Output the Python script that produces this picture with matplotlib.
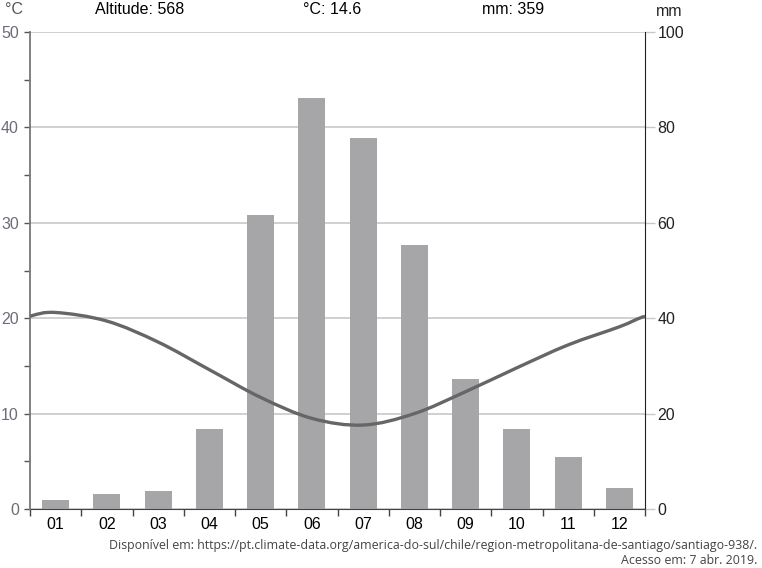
import numpy as np
import matplotlib
matplotlib.use('Agg')
import matplotlib.pyplot as plt
from matplotlib.path import Path
from matplotlib.patches import PathPatch

plt.rcParams['font.family'] = ['Liberation Sans', 'DejaVu Sans']

# data
months = ['01', '02', '03', '04', '05', '06', '07', '08', '09', '10', '11', '12']
precip = [1.9, 3.1, 3.8, 16.8, 61.6, 86.2, 77.8, 55.3, 27.3, 16.8, 10.9, 4.4]
temp = [20.6, 19.7, 17.5, 14.6, 11.7, 9.5, 8.8, 10.0, 12.3, 14.8, 17.2, 19.1]
temp_edge = 20.2  # value at the Dec/Jan boundary (both plot edges)

fs = 11.5
fig = plt.figure(figsize=(7.62, 5.68), dpi=100)
ax = fig.add_axes([30 / 762, 59 / 568, 615 / 762, 477 / 568])
x = np.arange(len(months))

# precipitation bars (mm, right scale)
ax.bar(x, precip, width=0.53, color='#a6a6a9', zorder=2)
ax.set_xlim(-0.5, 11.5)
ax.set_ylim(0, 100)
ax.set_yticks(range(0, 101, 20))
ax.grid(axis='y', color='#c8c8c8', linewidth=1.2, zorder=0)
ax.set_xticks(x)
ax.set_xticklabels(months)
ax.set_xticks(np.arange(-0.5, 12, 1), minor=True)
ax.tick_params(axis='x', which='major', length=0, labelsize=fs, pad=6)
ax.tick_params(axis='x', which='minor', length=5, width=1, color='#444444')

# temperature line (°C, left scale)
ax2 = ax.twinx()
ax.yaxis.tick_right()
ax.tick_params(axis='y', direction='out', length=7, width=1, color='#c8c8c8',
               labelsize=fs, labelcolor='#222222', pad=2)
for s in ['top', 'left']:
    ax.spines[s].set_visible(False)
ax.spines['right'].set_color('#222222')
ax.spines['bottom'].set_color('#444444')

ax2.set_ylim(0, 50)
ax2.set_yticks(range(0, 51, 10))
ax2.set_yticks(range(5, 50, 10), minor=True)
ax2.yaxis.tick_left()
ax2.tick_params(axis='y', which='both', direction='out', length=4, width=1,
                color='#555555', labelsize=fs, labelcolor='#6a6e78', pad=4)
for s in ['top', 'right', 'bottom']:
    ax2.spines[s].set_visible(False)
ax2.spines['left'].set_color('#777777')
ax2.spines['left'].set_linewidth(1.3)

px = np.concatenate([[-0.5], x, [11.5]])
py = np.concatenate([[temp_edge], temp, [temp_edge]])
pts = np.column_stack([px, py])
# periodic neighbours for the end tangents
ext = np.vstack([[-1, temp[-1]], pts, [12, temp[0]]])
verts = [tuple(pts[0])]
codes = [Path.MOVETO]
for i in range(1, len(ext) - 2):
    p0, p1, p2, p3 = ext[i - 1], ext[i], ext[i + 1], ext[i + 2]
    c1 = p1 + (p2 - p0) / 6
    c2 = p2 - (p3 - p1) / 6
    verts += [tuple(c1), tuple(c2), tuple(p2)]
    codes += [Path.CURVE4] * 3
ax2.add_patch(PathPatch(Path(verts, codes), facecolor='none', edgecolor='#666666',
                        linewidth=2.4, zorder=3, clip_on=False))

# header texts
fig.text(5 / 762, 1 - 10 / 568, '°C', fontsize=fs, color='#555555', va='center')
fig.text(656 / 762, 1 - 11 / 568, 'mm', fontsize=fs, color='#222222', va='center')
fig.text(140 / 762, 1 - 10 / 568, 'Altitude: 568', fontsize=fs, ha='center', va='center')
fig.text(332 / 762, 1 - 10 / 568, '°C: 14.6', fontsize=fs, ha='center', va='center')
fig.text(513 / 762, 1 - 10 / 568, 'mm: 359', fontsize=fs, ha='center', va='center')

# source
src_font = ['Open Sans', 'DejaVu Sans']
fig.text(757 / 762, 1 - 545 / 568,
         'Disponível em: https://pt.climate-data.org/america-do-sul/chile/region-metropolitana-de-santiago/santiago-938/.',
         fontsize=8.9, color='#444444', ha='right', va='center', family=src_font)
fig.text(757 / 762, 1 - 561 / 568, 'Acesso em: 7 abr. 2019.',
         fontsize=8.9, color='#444444', ha='right', va='center', family=src_font)

fig.savefig('out.png', dpi=100)
